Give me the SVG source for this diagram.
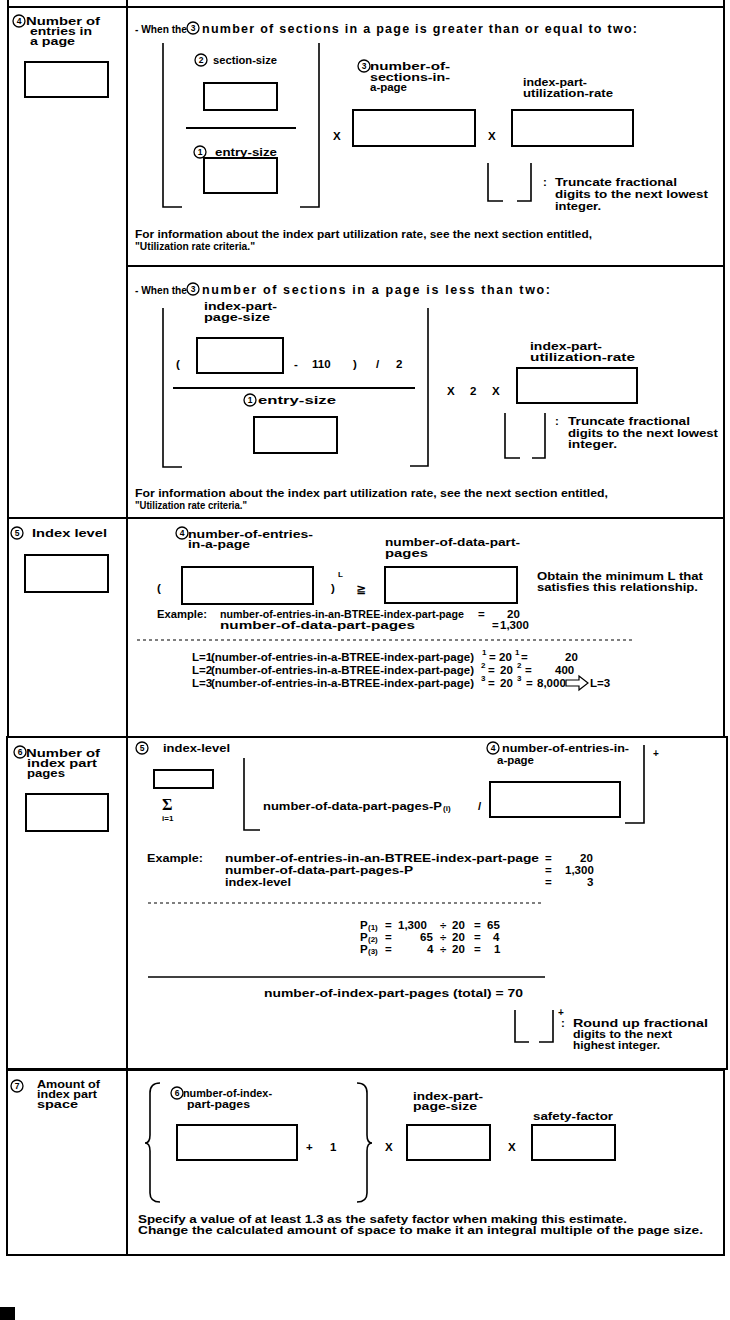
<svg xmlns="http://www.w3.org/2000/svg" width="730" height="1320" viewBox="0 0 730 1320">
<style>
text{font-family:"Liberation Sans",Arial,Helvetica,sans-serif;font-size:11.5px;font-weight:bold;fill:#000}
.frame{fill:none;stroke:#000;stroke-width:2}
.box{fill:#fff;stroke:#000;stroke-width:2}
.ln{fill:none;stroke:#000;stroke-width:2}
.br{fill:none;stroke:#000;stroke-width:1.6}
.dash{fill:none;stroke:#000;stroke-width:1.2;stroke-dasharray:3 3}
.cc{fill:#fff;stroke:#000;stroke-width:1.3}
text.cd{font-size:8.5px;text-anchor:middle}
text.sm{font-size:8px}
text.lb{font-size:10.5px}
text.hd{font-size:12.5px}
</style>
<rect width="730" height="1320" fill="#fff"/>

<g id="frames">
<path class="frame" d="M8,0V518M127,0V518M724,0V518M8,7H724M127,266H724M8,518H724M8,518V737M127,518V737M724,518V737"/>
<path class="frame" d="M7,737H727V1069H7ZM127,737V1069"/>
<path class="frame" d="M7,1070H724V1255H7ZM127,1069V1255"/>
</g>

<g id="sec4">
<g id="sec4-label">
<circle class="cc" cx="19" cy="21" r="6"/><text class="cd" x="19" y="24">4</text>
<text class="lb" x="26" y="25" textLength="74" lengthAdjust="spacingAndGlyphs">Number of</text>
<text class="lb" x="30" y="35" textLength="62" lengthAdjust="spacingAndGlyphs">entries in</text>
<text class="lb" x="30" y="45" textLength="45" lengthAdjust="spacingAndGlyphs">a page</text>
<rect class="box" x="25" y="62" width="83" height="35"/>
</g>
<g id="sec4-case1">
<text x="135" y="33" textLength="52" lengthAdjust="spacingAndGlyphs">- When the</text>
<circle class="cc" cx="193" cy="28" r="6"/><text class="cd" x="193" y="31">3</text>
<text class="hd" x="202" y="33" textLength="435">number of sections in a page is greater than or equal to two:</text>
<path class="br" d="M163,43V207H182M319,43V207H300"/>
<circle class="cc" cx="201" cy="60" r="6"/><text class="cd" x="201" y="63">2</text>
<text x="213" y="64" textLength="64" lengthAdjust="spacingAndGlyphs">section-size</text>
<rect class="box" x="204" y="83" width="73" height="27"/>
<path class="ln" d="M186,128H296"/>
<circle class="cc" cx="200" cy="152" r="6"/><text class="cd" x="200" y="155">1</text>
<text x="215" y="156" textLength="62" lengthAdjust="spacingAndGlyphs">entry-size</text>
<rect class="box" x="204" y="158" width="73" height="35"/>
<text x="333" y="140">X</text>
<circle class="cc" cx="364" cy="66" r="6"/><text class="cd" x="364" y="69">3</text>
<text x="370" y="70" textLength="80" lengthAdjust="spacingAndGlyphs">number-of-</text>
<text x="370" y="81" textLength="80" lengthAdjust="spacingAndGlyphs">sections-in-</text>
<text x="370" y="91" textLength="37" lengthAdjust="spacingAndGlyphs">a-page</text>
<rect class="box" x="353" y="110" width="122" height="36"/>
<text x="488" y="140">X</text>
<text x="523" y="86" textLength="64" lengthAdjust="spacingAndGlyphs">index-part-</text>
<text x="523" y="97" textLength="90" lengthAdjust="spacingAndGlyphs">utilization-rate</text>
<rect class="box" x="512" y="110" width="121" height="36"/>
<path class="br" d="M488,163V201H503M531,163V201H517"/>
<text x="543" y="186">:</text>
<text x="555" y="186" textLength="122" lengthAdjust="spacingAndGlyphs">Truncate fractional</text>
<text x="555" y="198" textLength="153" lengthAdjust="spacingAndGlyphs">digits to the next lowest</text>
<text x="555" y="210" textLength="46" lengthAdjust="spacingAndGlyphs">integer.</text>
<text x="135" y="238" textLength="457" lengthAdjust="spacingAndGlyphs">For information about the index part utilization rate, see the next section entitled,</text>
<text x="135" y="250" textLength="120" lengthAdjust="spacingAndGlyphs">"Utilization rate criteria."</text>
</g>
<g id="sec4-case2">
<text x="135" y="294" textLength="52" lengthAdjust="spacingAndGlyphs">- When the</text>
<circle class="cc" cx="193" cy="289" r="6"/><text class="cd" x="193" y="292">3</text>
<text class="hd" x="202" y="294" textLength="348">number of sections in a page is less than two:</text>
<path class="br" d="M163,308V467H182M428,308V466H410"/>
<text x="204" y="310" textLength="73" lengthAdjust="spacingAndGlyphs">index-part-</text>
<text x="204" y="321" textLength="66" lengthAdjust="spacingAndGlyphs">page-size</text>
<text x="176" y="368">(</text>
<rect class="box" x="197" y="338" width="86" height="35"/>
<text x="294" y="368">-</text>
<text x="312" y="368">110</text>
<text x="353" y="368">)</text>
<text x="376" y="368">/</text>
<text x="396" y="368">2</text>
<path class="ln" d="M173,388H415"/>
<circle class="cc" cx="250" cy="400" r="6"/><text class="cd" x="250" y="403">1</text>
<text x="258" y="404" textLength="78" lengthAdjust="spacingAndGlyphs">entry-size</text>
<rect class="box" x="254" y="417" width="83" height="36"/>
<text x="447" y="395">X</text>
<text x="470" y="395">2</text>
<text x="492" y="395">X</text>
<text x="530" y="350" textLength="72" lengthAdjust="spacingAndGlyphs">index-part-</text>
<text x="530" y="361" textLength="105" lengthAdjust="spacingAndGlyphs">utilization-rate</text>
<rect class="box" x="517" y="368" width="120" height="35"/>
<path class="br" d="M505,413V458H520M545,413V458H532"/>
<text x="555" y="425">:</text>
<text x="568" y="425" textLength="122" lengthAdjust="spacingAndGlyphs">Truncate fractional</text>
<text x="568" y="437" textLength="150" lengthAdjust="spacingAndGlyphs">digits to the next lowest</text>
<text x="568" y="448" textLength="49" lengthAdjust="spacingAndGlyphs">integer.</text>
<text x="135" y="497" textLength="473" lengthAdjust="spacingAndGlyphs">For information about the index part utilization rate, see the next section entitled,</text>
<text x="135" y="509" textLength="112" lengthAdjust="spacingAndGlyphs">"Utilization rate criteria."</text>
</g>
</g>

<g id="sec5">
<g id="sec5-label">
<circle class="cc" cx="17" cy="533" r="6"/><text class="cd" x="17" y="536">5</text>
<text x="32" y="537" textLength="75" lengthAdjust="spacingAndGlyphs">Index level</text>
<rect class="box" x="25" y="555" width="83" height="37"/>
</g>
<g id="sec5-formula">
<circle class="cc" cx="182" cy="533" r="6"/><text class="cd" x="182" y="536">4</text>
<text x="188" y="538" textLength="125" lengthAdjust="spacingAndGlyphs">number-of-entries-</text>
<text x="188" y="548" textLength="62" lengthAdjust="spacingAndGlyphs">in-a-page</text>
<text x="157" y="592">(</text>
<rect class="box" x="182" y="567" width="131" height="37"/>
<text x="331" y="592">)</text>
<text class="sm" x="338" y="577">L</text>
<text x="356" y="593" style="font-family:'DejaVu Sans',sans-serif;font-size:12px">≧</text>
<text x="385" y="546" textLength="135" lengthAdjust="spacingAndGlyphs">number-of-data-part-</text>
<text x="385" y="557" textLength="43" lengthAdjust="spacingAndGlyphs">pages</text>
<rect class="box" x="385" y="567" width="132" height="36"/>
<text x="537" y="580" textLength="166" lengthAdjust="spacingAndGlyphs">Obtain the minimum L that</text>
<text x="537" y="591" textLength="161" lengthAdjust="spacingAndGlyphs">satisfies this relationship.</text>
</g>
<g id="sec5-example">
<text x="157" y="618" textLength="50" lengthAdjust="spacingAndGlyphs">Example:</text>
<text x="220" y="618" textLength="244" lengthAdjust="spacingAndGlyphs">number-of-entries-in-an-BTREE-index-part-page</text>
<text x="478" y="618">=</text>
<text x="507" y="618">20</text>
<text x="220" y="629" textLength="195" lengthAdjust="spacingAndGlyphs">number-of-data-part-pages</text>
<text x="492" y="629">=</text>
<text x="500" y="629">1,300</text>
<path class="dash" d="M137,640H633"/>
<text x="192" y="661">L=1</text>
<text x="211" y="661" textLength="263" lengthAdjust="spacingAndGlyphs">(number-of-entries-in-a-BTREE-index-part-page)</text>
<text class="sm" x="482" y="655">1</text>
<text x="489" y="661">=</text>
<text x="499" y="661">20</text>
<text class="sm" x="515" y="655">1</text>
<text x="521" y="661">=</text>
<text x="565" y="661">20</text>
<text x="192" y="674">L=2</text>
<text x="211" y="674" textLength="263" lengthAdjust="spacingAndGlyphs">(number-of-entries-in-a-BTREE-index-part-page)</text>
<text class="sm" x="481" y="668">2</text>
<text x="488" y="674">=</text>
<text x="500" y="674">20</text>
<text class="sm" x="517" y="668">2</text>
<text x="525" y="674">=</text>
<text x="555" y="674">400</text>
<text x="192" y="687">L=3</text>
<text x="211" y="687" textLength="263" lengthAdjust="spacingAndGlyphs">(number-of-entries-in-a-BTREE-index-part-page)</text>
<text class="sm" x="481" y="681">3</text>
<text x="488" y="687">=</text>
<text x="500" y="687">20</text>
<text class="sm" x="517" y="681">3</text>
<text x="526" y="687">=</text>
<text x="537" y="687">8,000</text>
<path class="br" style="stroke-width:1.2" d="M566,680H579V676L588,683L579,690V686H566Z"/>
<text x="590" y="687">L=3</text>
</g>
</g>

<g id="sec6">
<g id="sec6-label">
<circle class="cc" cx="20" cy="752" r="6"/><text class="cd" x="20" y="755">6</text>
<text class="lb" x="26" y="757" textLength="74" lengthAdjust="spacingAndGlyphs">Number of</text>
<text class="lb" x="27" y="767" textLength="70" lengthAdjust="spacingAndGlyphs">index part</text>
<text class="lb" x="27" y="777" textLength="38" lengthAdjust="spacingAndGlyphs">pages</text>
<rect class="box" x="26" y="794" width="82" height="37"/>
</g>
<g id="sec6-formula">
<circle class="cc" cx="142" cy="748" r="6"/><text class="cd" x="142" y="751">5</text>
<text x="163" y="752" textLength="67" lengthAdjust="spacingAndGlyphs">index-level</text>
<rect class="box" x="154" y="770" width="59" height="18"/>
<text x="162" y="810" style="font-family:'Liberation Serif',serif;font-size:16px">Σ</text>
<text class="sm" x="162" y="821">i=1</text>
<path class="br" d="M244,758V830H260M644,745V823H625"/>
<text x="263" y="810" textLength="179" lengthAdjust="spacingAndGlyphs">number-of-data-part-pages-P</text>
<text class="sm" x="443" y="811">(i)</text>
<text x="478" y="810">/</text>
<rect class="box" x="490" y="782" width="130" height="35"/>
<circle class="cc" cx="493" cy="748" r="6"/><text class="cd" x="493" y="751">4</text>
<text x="502" y="752" textLength="127" lengthAdjust="spacingAndGlyphs">number-of-entries-in-</text>
<text x="497" y="764" textLength="37" lengthAdjust="spacingAndGlyphs">a-page</text>
<text x="653" y="757" style="font-size:10px">+</text>
</g>
<g id="sec6-example">
<text x="147" y="862" textLength="56" lengthAdjust="spacingAndGlyphs">Example:</text>
<text x="225" y="862" textLength="314" lengthAdjust="spacingAndGlyphs">number-of-entries-in-an-BTREE-index-part-page</text>
<text x="545" y="862">=</text>
<text x="580" y="862">20</text>
<text x="225" y="874" textLength="188" lengthAdjust="spacingAndGlyphs">number-of-data-part-pages-P</text>
<text x="545" y="874">=</text>
<text x="565" y="874">1,300</text>
<text x="225" y="886" textLength="66" lengthAdjust="spacingAndGlyphs">index-level</text>
<text x="545" y="886">=</text>
<text x="587" y="886">3</text>
<path class="dash" d="M148,903H542"/>
<text x="360" y="929">P</text><text class="sm" x="368" y="930">(1)</text>
<text x="385" y="929">=</text><text x="398" y="929">1,300</text><text x="440" y="929">÷</text><text x="452" y="929">20</text><text x="474" y="929">=</text><text x="487" y="929">65</text>
<text x="360" y="941">P</text><text class="sm" x="368" y="942">(2)</text>
<text x="385" y="941">=</text><text x="420" y="941">65</text><text x="440" y="941">÷</text><text x="452" y="941">20</text><text x="474" y="941">=</text><text x="493" y="941">4</text>
<text x="360" y="953">P</text><text class="sm" x="368" y="954">(3)</text>
<text x="385" y="953">=</text><text x="427" y="953">4</text><text x="440" y="953">÷</text><text x="452" y="953">20</text><text x="474" y="953">=</text><text x="494" y="953">1</text>
<path class="ln" style="stroke-width:1.5" d="M148,977H545"/>
<text x="264" y="997" textLength="259" lengthAdjust="spacingAndGlyphs">number-of-index-part-pages (total) = 70</text>
<path class="br" d="M515,1010V1042H529M553,1010V1042H539"/>
<text x="558" y="1016" style="font-size:10px">+</text>
<text x="561" y="1027">:</text>
<text x="573" y="1027" textLength="135" lengthAdjust="spacingAndGlyphs">Round up fractional</text>
<text x="573" y="1038" textLength="99" lengthAdjust="spacingAndGlyphs">digits to the next</text>
<text x="573" y="1049" textLength="87" lengthAdjust="spacingAndGlyphs">highest integer.</text>
</g>
</g>

<g id="sec7">
<g id="sec7-label">
<circle class="cc" cx="17" cy="1086" r="6"/><text class="cd" x="17" y="1089">7</text>
<text class="lb" x="37" y="1088" textLength="63" lengthAdjust="spacingAndGlyphs">Amount of</text>
<text class="lb" x="37" y="1098" textLength="60" lengthAdjust="spacingAndGlyphs">index part</text>
<text class="lb" x="37" y="1108" textLength="41" lengthAdjust="spacingAndGlyphs">space</text>
</g>
<g id="sec7-formula">
<path class="br" d="M160,1083Q150,1083 150,1093V1135Q150,1143 145,1143Q150,1143 150,1151V1193Q150,1202 160,1202"/>
<circle class="cc" cx="177" cy="1093" r="6"/><text class="cd" x="177" y="1096">6</text>
<text x="183" y="1097" textLength="89" lengthAdjust="spacingAndGlyphs">number-of-index-</text>
<text x="187" y="1108" textLength="63" lengthAdjust="spacingAndGlyphs">part-pages</text>
<rect class="box" x="177" y="1125" width="120" height="35"/>
<text x="306" y="1151">+</text>
<text x="330" y="1151">1</text>
<path class="br" d="M357,1083Q367,1083 367,1093V1135Q367,1143 372,1143Q367,1143 367,1151V1193Q367,1202 357,1202"/>
<text x="385" y="1151">X</text>
<text x="413" y="1100" textLength="70" lengthAdjust="spacingAndGlyphs">index-part-</text>
<text x="413" y="1110" textLength="64" lengthAdjust="spacingAndGlyphs">page-size</text>
<rect class="box" x="407" y="1125" width="83" height="35"/>
<text x="508" y="1151">X</text>
<text x="533" y="1120" textLength="80" lengthAdjust="spacingAndGlyphs">safety-factor</text>
<rect class="box" x="532" y="1125" width="83" height="35"/>
<text x="138" y="1223" textLength="489" lengthAdjust="spacingAndGlyphs">Specify a value of at least 1.3 as the safety factor when making this estimate.</text>
<text x="138" y="1234" textLength="565" lengthAdjust="spacingAndGlyphs">Change the calculated amount of space to make it an integral multiple of the page size.</text>
</g>
</g>

<rect id="mark" x="0" y="1307" width="15" height="13" fill="#000"/>
</svg>
